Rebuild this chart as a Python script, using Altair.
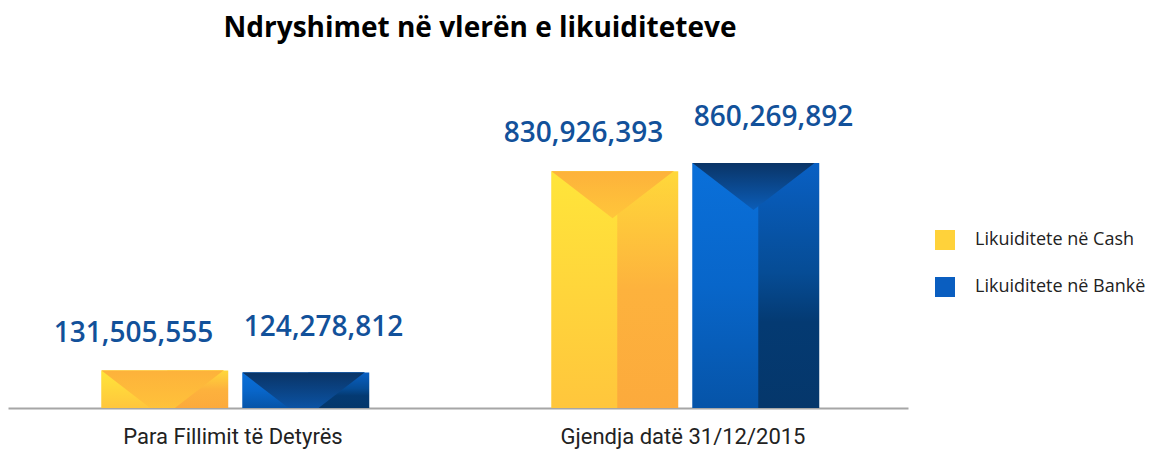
import altair as alt
import pandas as pd

categories = ["Para Fillimit të Detyrës", "Gjendja datë 31/12/2015"]
series = ["Likuiditete në Cash", "Likuiditete në Bankë"]
cash_values = [131505555, 830926393]
bank_values = [124278812, 860269892]

rows = []
for i, c in enumerate(categories):
    rows.append({"category": c, "series": series[0], "value": cash_values[i]})
    rows.append({"category": c, "series": series[1], "value": bank_values[i]})
df = pd.DataFrame(rows)


def vgrad(stops):
    return alt.LinearGradient(
        gradient="linear",
        stops=[alt.GradientStop(color=c, offset=o) for o, c in stops],
        x1=0, x2=0, y1=0, y2=1,
    )


cash_left = vgrad([(0, "#FFE53A"), (1, "#FFC63C")])
cash_right = vgrad([(0, "#FFD83A"), (0.5, "#FDB23D"), (1, "#FCAA3C")])
cash_tri = vgrad([(0, "#FDB23B"), (1, "#FFC63A")])
bank_left = vgrad([(0, "#0A70DA"), (0.5, "#0866CA"), (1, "#0654A8")])
bank_right = vgrad([(0, "#0960C4"), (0.45, "#064C95"), (0.65, "#043A72"), (1, "#05376B")])
bank_tri = vgrad([(0, "#0A3466"), (1, "#0B5DB8")])

x_enc = alt.X(
    "category:N",
    sort=categories,
    scale=alt.Scale(paddingInner=0.4156, paddingOuter=0.2078),
    axis=alt.Axis(
        title=None, ticks=False, labelAngle=0, labelFontSize=22,
        labelFont="Roboto", labelLimit=0,
        labelColor="#222222", labelPadding=18, domainColor="#A6A6A6",
        domainWidth=2, labelBaseline="top",
    ),
)
xo_enc = alt.XOffset("series:N", sort=series, scale=alt.Scale(paddingInner=0.135, paddingOuter=0))
y_enc = alt.Y("value:Q", scale=alt.Scale(domain=[0, 1264000000]), axis=None)

base = alt.Chart(df).encode(x=x_enc, xOffset=xo_enc, y=y_enc)

legend_layer = base.mark_bar().encode(
    color=alt.Color(
        "series:N",
        sort=series,
        scale=alt.Scale(domain=series, range=["#FFD23A", "#0A5EC0"]),
        legend=alt.Legend(
            title=None, orient="none", legendX=927, legendY=182,
            symbolType="square", symbolSize=400, symbolStrokeWidth=0,
            labelFontSize=18, labelFont="Open Sans", labelColor="#222222",
            labelOffset=20, rowPadding=27, labelLimit=0,
        ),
    )
)

tri_shape = "M-1,0L1,0L0,0.77Z"
layers = [legend_layer]
for s, left, right, tri in [
    (series[0], cash_left, cash_right, cash_tri),
    (series[1], bank_left, bank_right, bank_tri),
]:
    f = alt.datum.series == s
    layers.append(base.transform_filter(f).mark_bar(fill=left))
    layers.append(
        base.transform_filter(f).mark_bar(
            fill=right, width=alt.RelativeBandSize(0.5), xOffset=30.5
        )
    )
    layers.append(
        base.transform_filter(f).mark_point(
            shape=tri_shape, size=14884, filled=True, fill=tri,
            opacity=1, strokeWidth=0, clip=True,
        )
    )

for s, dx, dy in [(series[0], -29, -37), (series[1], 20, -45)]:
    layers.append(
        base.transform_filter(alt.datum.series == s)
        .mark_text(
            font="Open Sans", fontWeight=600, fontSize=28, color="#12519A",
            baseline="middle", dy=dy, dx=dx,
        )
        .encode(text=alt.Text("value:Q", format=",d"))
    )

chart = (
    alt.layer(*layers)
    .properties(
        width=900,
        height=360,
        autosize=alt.AutoSizeParams(type="none"),
        padding={"left": 0, "top": 40, "right": 244, "bottom": 45},
        title=alt.TitleParams(
            "Ndryshimet në vlerën e likuiditeteve",
            font="Open Sans", fontSize=28, fontWeight="bold", color="#000000",
            anchor="middle", dx=22, offset=5,
        ),
    )
    .configure_view(stroke=None)
)

chart.save("out.html", embed_options={"renderer": "svg", "actions": False})
